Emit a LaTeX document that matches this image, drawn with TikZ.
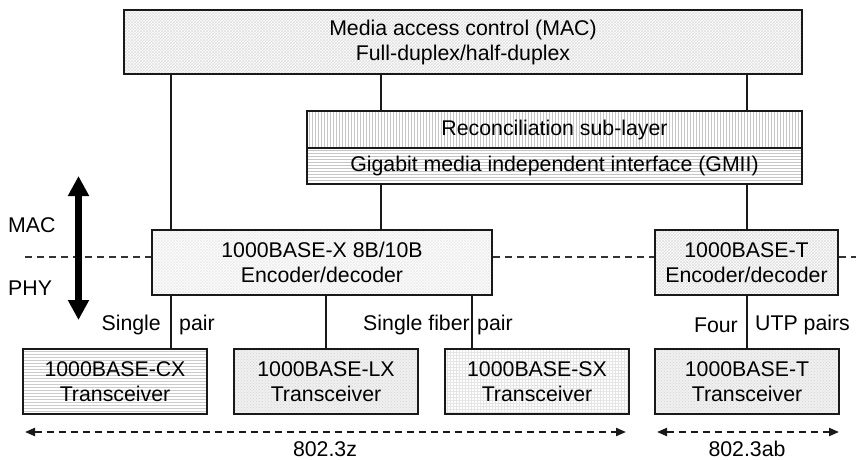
\documentclass[tikz,border=0pt]{standalone}
\usepackage{fontspec}
\setmainfont{Liberation Sans}
\usetikzlibrary{patterns,arrows.meta}
\tikzset{
  box/.style={draw=black!90, line width=2.5pt, inner sep=0pt, align=center},
  conn/.style={draw=black!90, line width=2pt},
  layerline/.style={draw=black!80, line width=1.2pt, dash pattern=on 7pt off 5pt},
  rangearrow/.style={draw=black!90, line width=2pt, dash pattern=on 7pt off 5pt, {Triangle[length=10pt,width=8pt]}-{Triangle[length=10pt,width=8pt]}},
  lbl/.style={inner sep=0pt},
  crossfill/.style={preaction={fill=white}, pattern=crosshatch, pattern color=#1},
  vfill/.style={preaction={fill=white}, pattern=vertical lines, pattern color=#1},
  hfill/.style={preaction={fill=white}, pattern=horizontal lines, pattern color=#1},
  noisefill/.style={preaction={fill=gray!12}, pattern=crosshatch dots, pattern color=#1},
  gridfill/.style={preaction={fill=white}, pattern=grid, pattern color=#1},
}
\begin{document}
\begin{tikzpicture}[x=1pt,y=-1pt, font=\fontsize{21.3pt}{25pt}\selectfont]
\useasboundingbox (0,0) rectangle (856,460);

% boxes
\node[box, crossfill=gray!25, minimum width=678pt, minimum height=64pt] (mac) at (463,42) {Media access control (MAC)\\Full-duplex/half-duplex};
\node[box, vfill=gray!45, minimum width=495pt, minimum height=37pt] (rec) at (554.5,129.5) {Reconciliation sub-layer};
\node[box, hfill=gray!45, minimum width=495pt, minimum height=36pt] (gmii) at (554.5,166) {Gigabit media independent interface (GMII)};
\node[box, crossfill=gray!15, minimum width=340pt, minimum height=65pt] (encx) at (322,262.5) {1000BASE-X 8B/10B\\Encoder/decoder};
\node[box, crossfill=gray!25, minimum width=183pt, minimum height=65pt] (enct) at (746.5,262.5) {1000BASE-T\\Encoder/decoder};
\node[box, hfill=gray!40, minimum width=184pt, minimum height=65pt] (cx) at (115,381.5) {1000BASE-CX\\Transceiver};
\node[box, noisefill=gray!35, minimum width=184pt, minimum height=65pt] (lx) at (326,381.5) {1000BASE-LX\\Transceiver};
\node[box, gridfill=gray!20, minimum width=184pt, minimum height=65pt] (sx) at (537,381.5) {1000BASE-SX\\Transceiver};
\node[box, noisefill=gray!35, minimum width=184pt, minimum height=65pt] (tt) at (747,381.5) {1000BASE-T\\Transceiver};

% x positions of connectors
\coordinate (xa) at (171,0);
\coordinate (xb) at (381,0);
\coordinate (xc) at (747,0);
\coordinate (xd) at (326,0);
\coordinate (xe) at (472,0);

% connectors
\draw[conn] (mac.south -| xa) -- (encx.north -| xa);
\draw[conn] (mac.south -| xb) -- (rec.north -| xb);
\draw[conn] (mac.south -| xc) -- (rec.north -| xc);
\draw[conn] (gmii.south -| xb) -- (encx.north -| xb);
\draw[conn] (gmii.south -| xc) -- (enct.north -| xc);
\draw[conn] (encx.south -| xa) -- (cx.north -| xa);
\draw[conn] (encx.south -| xd) -- (lx.north -| xd);
\draw[conn] (encx.south -| xe) -- (sx.north -| xe);
\draw[conn] (enct.south -| xc) -- (tt.north -| xc);

% MAC/PHY boundary
\coordinate (dl) at (25,257);
\coordinate (dr) at (856,257);
\draw[layerline] (dl) -- (encx.west |- dl);
\draw[layerline] (encx.east |- dl) -- (enct.west |- dl);
\draw[layerline] (enct.east |- dl) -- (dr);

% big double arrow
\coordinate (aT) at (78.5,176);
\coordinate (aB) at (78.5,320);
\draw[line width=7pt, draw=black, {Triangle[length=20pt,width=20pt]}-{Triangle[length=20pt,width=20pt]}] (aT) -- (aB);
\node[lbl, anchor=west] (lmac) at (8,225) {MAC};
\node[lbl, anchor=west] (lphy) at (8,288) {PHY};

% link labels
\node[lbl, anchor=east] (s1) at (161,325) {Single};
\node[lbl, anchor=west] (p1) at (179,325) {pair};
\node[lbl, anchor=east] (s2) at (470,325) {Single fiber};
\node[lbl, anchor=west] (p2) at (477,325) {pair};
\node[lbl, anchor=east] (f4) at (738,325) {Four};
\node[lbl, anchor=west] (utp) at (755,325) {UTP pairs};

% standards ranges
\coordinate (zl) at (25,432);
\coordinate (zr) at (626,432);
\coordinate (abl) at (657,432);
\coordinate (abr) at (839,432);
\draw[rangearrow] (zl) -- (zr);
\draw[rangearrow] (abl) -- (abr);
\node[lbl, anchor=base] (z) at (325,456) {802.3z};
\node[lbl, anchor=base] (ab) at (747,456) {802.3ab};
\end{tikzpicture}
\end{document}
